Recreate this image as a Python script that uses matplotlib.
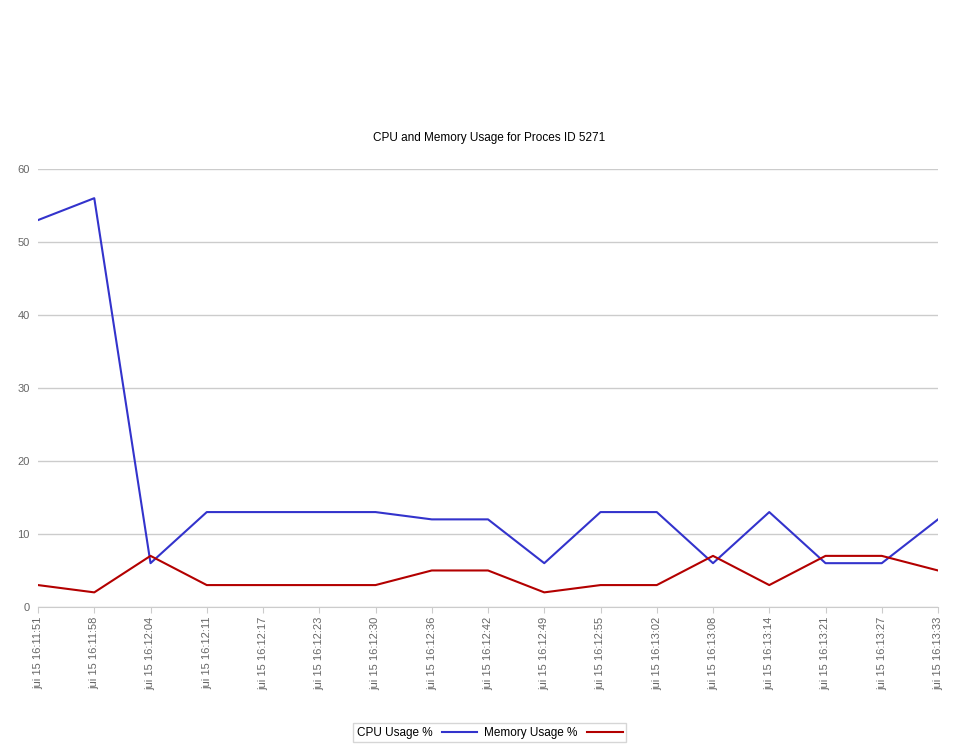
import matplotlib
matplotlib.use("Agg")
import matplotlib.pyplot as plt

plt.rcParams['font.family'] = ['Liberation Sans', 'DejaVu Sans']

times = ["jui 15 16:11:51", "jui 15 16:11:58", "jui 15 16:12:04", "jui 15 16:12:11",
         "jui 15 16:12:17", "jui 15 16:12:23", "jui 15 16:12:30", "jui 15 16:12:36",
         "jui 15 16:12:42", "jui 15 16:12:49", "jui 15 16:12:55", "jui 15 16:13:02",
         "jui 15 16:13:08", "jui 15 16:13:14", "jui 15 16:13:21", "jui 15 16:13:27",
         "jui 15 16:13:33"]
cpu = [53, 56, 6, 13, 13, 13, 13, 12, 12, 6, 13, 13, 6, 13, 6, 6, 12]
memory = [3, 2, 7, 3, 3, 3, 3, 5, 5, 2, 3, 3, 7, 3, 7, 7, 5]

fig = plt.figure(figsize=(9.6, 7.5), dpi=100)
ax = fig.add_axes([0.0396, 0.1907, 0.9375, 0.584])

x = list(range(len(times)))
ax.plot(x, cpu, color="#3333cc", lw=1.5, label="CPU Usage %")
ax.plot(x, memory, color="#b30000", lw=1.5, label="Memory Usage %")

ax.set_xlim(0, len(times) - 1)
ax.set_ylim(0, 60)
ax.set_yticks(range(0, 61, 10))
ax.set_xticks(x)
ax.set_xticklabels(times, rotation=90, fontsize=8, color="#666666")
ax.tick_params(axis='y', labelsize=8, labelcolor="#666666", length=0, pad=6)
ax.tick_params(axis='x', length=4, color="#cccccc", pad=3)
ax.grid(axis='y', color="#cccccc", lw=1)
ax.set_axisbelow(True)
for s in ["top", "right", "left"]:
    ax.spines[s].set_visible(False)
ax.spines["bottom"].set_color("#cccccc")

fig.text(0.51, 0.812, "CPU and Memory Usage for Proces ID 5271", ha="center", fontsize=8.5)

fig.legend(loc="center", bbox_to_anchor=(0.51, 0.023), ncol=2, fontsize=8.5,
           markerfirst=False, frameon=True, fancybox=False, edgecolor="#cccccc",
           handlelength=3, columnspacing=0.6, borderpad=0.3)

fig.savefig("out.png", dpi=100)
